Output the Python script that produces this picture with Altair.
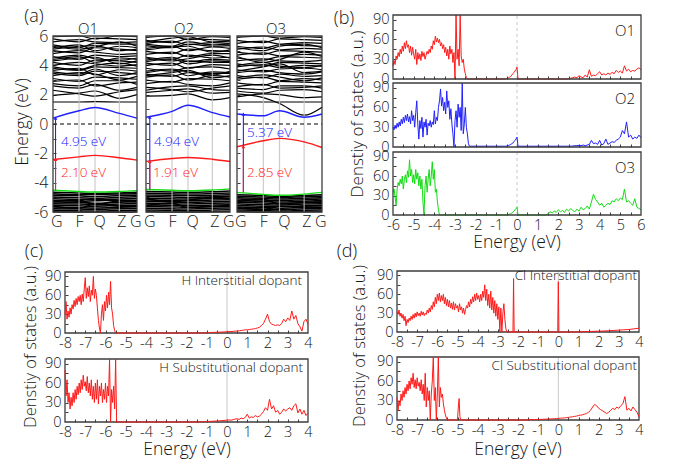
import altair as alt
import pandas as pd

W, H = 692, 460
FONT = "Open Sans"
INK = "#151515"
FRAME = "#3c3c3c"
RED = "#ff1a1a"
BLUE = "#2020ff"
GREEN = "#14dc14"
GRID = "#c4c4c4"
TICK = 3

# ====================== (a) band structures ======================
KPTS = [0.0, 0.31, 0.5, 0.79, 1.0]
KLABELS = ["G", "F", "Q", "Z", "G"]
KLABEL_POS = [0.04, 0.31, 0.55, 0.815, 0.98]

O1_CB = [
    [1.50, 1.50, 1.52, 1.50, 1.50], [1.95, 2.10, 2.25, 1.75, 2.00],
    [2.30, 2.05, 1.90, 2.20, 2.35], [2.60, 2.45, 2.70, 2.30, 2.50],
    [2.75, 2.60, 2.95, 2.95, 2.70], [2.90, 3.00, 2.60, 2.80, 2.85],
    [3.10, 2.90, 3.20, 3.15, 3.05], [3.30, 3.50, 3.40, 3.00, 3.25],
    [3.45, 3.30, 3.60, 3.50, 3.40], [3.55, 3.40, 3.75, 3.30, 3.50],
    [3.65, 3.80, 3.35, 3.70, 3.60], [3.80, 3.65, 3.90, 3.85, 3.80],
    [3.90, 3.70, 4.00, 4.15, 3.95], [4.00, 4.20, 4.10, 3.95, 4.05],
    [4.20, 4.00, 4.35, 4.30, 4.20], [4.30, 4.50, 4.55, 4.10, 4.30],
    [4.40, 4.60, 4.20, 4.50, 4.40], [4.50, 4.70, 4.45, 4.35, 4.50],
    [4.60, 4.40, 4.70, 4.60, 4.65], [4.80, 5.00, 4.90, 4.75, 4.80],
    [5.00, 4.85, 5.20, 5.10, 5.00], [5.10, 5.30, 5.35, 5.00, 5.10],
    [5.20, 5.40, 5.00, 5.30, 5.20], [5.30, 5.10, 5.25, 5.60, 5.30],
    [5.40, 5.20, 5.50, 5.45, 5.45], [5.60, 5.75, 5.60, 5.55, 5.60],
    [5.80, 5.60, 5.85, 5.80, 5.75], [5.95, 6.10, 5.80, 6.00, 5.95],
]
O2_CB = [
    [1.90, 1.95, 2.05, 1.65, 1.80], [2.15, 2.30, 2.40, 2.10, 2.15],
    [2.30, 2.55, 2.60, 2.35, 2.30], [2.50, 2.35, 2.20, 2.45, 2.60],
    [2.75, 2.90, 2.70, 2.60, 2.80], [3.00, 2.85, 3.10, 3.05, 2.95],
    [3.20, 3.35, 3.00, 3.30, 3.20], [3.30, 3.50, 3.65, 3.15, 3.30],
    [3.40, 3.25, 3.50, 3.45, 3.45], [3.50, 3.70, 3.30, 3.55, 3.50],
    [3.60, 3.75, 3.55, 3.35, 3.60], [3.80, 3.60, 3.85, 3.90, 3.75],
    [4.00, 4.15, 3.80, 4.05, 4.00], [4.15, 4.00, 4.30, 4.20, 4.20],
    [4.25, 4.45, 4.10, 4.30, 4.25], [4.35, 4.55, 4.25, 4.40, 4.35],
    [4.50, 4.30, 4.45, 4.70, 4.50], [4.55, 4.40, 4.70, 4.50, 4.55],
    [4.75, 4.90, 4.60, 4.80, 4.80], [4.95, 4.80, 5.10, 5.00, 4.95],
    [5.05, 5.25, 5.30, 4.90, 5.05], [5.15, 5.30, 5.00, 5.25, 5.15],
    [5.35, 5.20, 5.45, 5.30, 5.35], [5.45, 5.30, 5.60, 5.40, 5.45],
    [5.50, 5.65, 5.40, 5.55, 5.50], [5.60, 5.85, 5.95, 5.60, 5.65],
    [5.70, 5.55, 5.80, 5.75, 5.70], [5.90, 6.05, 5.75, 5.95, 5.90],
]
O3_CB = [
    [1.50, 1.50, 1.50, 1.50, 1.50], [2.05, 1.80, 1.40, 0.60, 1.15],
    [1.85, 2.05, 2.00, 1.80, 1.85], [2.25, 2.10, 2.30, 2.35, 2.20],
    [2.45, 2.35, 2.60, 2.60, 2.45], [2.55, 2.70, 2.45, 2.50, 2.60],
    [2.80, 2.65, 2.90, 2.85, 2.80], [3.05, 3.20, 2.95, 3.10, 3.00],
    [3.15, 3.35, 3.20, 2.95, 3.15], [3.30, 3.15, 3.40, 3.25, 3.30],
    [3.50, 3.65, 3.50, 3.40, 3.55], [3.60, 3.90, 4.10, 3.50, 3.60],
    [3.70, 3.55, 3.75, 3.80, 3.70], [3.90, 4.05, 3.85, 4.00, 3.95],
    [4.00, 4.20, 3.95, 3.85, 4.00], [4.10, 3.95, 4.20, 4.15, 4.10],
    [4.30, 4.45, 4.30, 4.25, 4.35], [4.50, 4.35, 4.60, 4.55, 4.50],
    [4.60, 4.20, 4.40, 4.90, 4.60], [4.70, 4.85, 4.65, 4.75, 4.70],
    [4.90, 4.75, 5.00, 4.95, 4.90], [5.10, 5.25, 5.05, 5.15, 5.10],
    [5.20, 5.00, 5.30, 5.45, 5.20], [5.30, 5.15, 5.40, 5.35, 5.30],
    [5.50, 5.65, 5.45, 5.55, 5.50], [5.70, 5.55, 5.80, 5.75, 5.70],
    [5.90, 6.05, 5.85, 5.95, 5.90],
]
O1_VB = [
    [-4.66, -4.70, -4.74, -4.70, -4.66], [-4.76, -4.82, -4.80, -4.78, -4.75],
    [-4.86, -4.90, -4.94, -4.88, -4.85], [-4.98, -5.02, -5.06, -5.00, -4.96],
    [-5.10, -5.14, -5.16, -5.12, -5.08], [-5.22, -5.26, -5.24, -5.20, -5.20],
    [-5.32, -5.36, -5.40, -5.34, -5.30], [-5.44, -5.46, -5.50, -5.46, -5.42],
    [-5.54, -5.58, -5.60, -5.56, -5.54], [-5.66, -5.70, -5.72, -5.68, -5.64],
    [-5.78, -5.80, -5.82, -5.78, -5.76], [-5.88, -5.92, -5.94, -5.90, -5.88],
    [-5.98, -6.02, -6.04, -6.00, -5.98], [-5.30, -5.20, -5.50, -5.25, -5.30],
    [-5.60, -5.75, -5.45, -5.60, -5.62],
]
O2_VB = [
    [-4.60, -4.64, -4.66, -4.62, -4.56], [-4.72, -4.76, -4.78, -4.74, -4.70],
    [-4.84, -4.86, -4.90, -4.86, -4.82], [-4.94, -4.98, -5.02, -4.96, -4.92],
    [-5.06, -5.10, -5.12, -5.08, -5.04], [-5.18, -5.20, -5.24, -5.18, -5.16],
    [-5.28, -5.32, -5.34, -5.30, -5.28], [-5.40, -5.44, -5.46, -5.40, -5.38],
    [-5.52, -5.54, -5.58, -5.52, -5.50], [-5.62, -5.66, -5.68, -5.64, -5.62],
    [-5.74, -5.78, -5.80, -5.74, -5.72], [-5.86, -5.88, -5.92, -5.86, -5.84],
    [-5.96, -6.00, -6.02, -5.98, -5.96], [-5.10, -5.30, -5.20, -5.00, -5.10],
    [-5.55, -5.40, -5.70, -5.60, -5.55],
]
O3_VB = [
    [-4.82, -4.88, -4.94, -4.88, -4.82], [-4.92, -4.98, -5.02, -4.96, -4.92],
    [-5.02, -5.08, -5.12, -5.06, -5.02], [-5.12, -5.18, -5.22, -5.16, -5.12],
    [-5.24, -5.28, -5.32, -5.26, -5.22], [-5.34, -5.38, -5.42, -5.36, -5.34],
    [-5.44, -5.50, -5.52, -5.46, -5.44], [-5.56, -5.60, -5.62, -5.58, -5.54],
    [-5.66, -5.70, -5.74, -5.68, -5.66], [-5.76, -5.80, -5.84, -5.78, -5.76],
    [-5.86, -5.90, -5.94, -5.88, -5.86], [-5.96, -6.00, -6.04, -5.98, -5.96],
    [-5.30, -5.15, -5.45, -5.35, -5.30], [-5.70, -5.85, -5.60, -5.65, -5.70],
]
O1_BLUE = [0.40, 0.90, 1.12, 0.72, 0.40]
O1_RED = [-2.42, -2.24, -2.14, -2.30, -2.46]
O1_GREEN = [-4.52, -4.60, -4.64, -4.60, -4.54]
O2_BLUE = [0.46, 0.86, 1.28, 0.78, 0.48]
O2_RED = [-2.55, -2.35, -2.28, -2.40, -2.56]
O2_GREEN = [-4.46, -4.52, -4.55, -4.50, -4.42]
O3_BLUE = [0.68, 0.56, 0.90, 0.46, 0.68]
O3_RED = [-1.55, -1.14, -0.98, -1.22, -1.60]
O3_GREEN = [-4.66, -4.80, -4.86, -4.78, -4.66]
GAP_LABELS = {"O1": ("4.95 eV", "2.10 eV"), "O2": ("4.94 eV", "1.91 eV"), "O3": ("5.37 eV", "2.85 eV")}

BANDS = {
    "O1": dict(cb=O1_CB, vb=O1_VB, blue=O1_BLUE, red=O1_RED, green=O1_GREEN),
    "O2": dict(cb=O2_CB, vb=O2_VB, blue=O2_BLUE, red=O2_RED, green=O2_GREEN),
    "O3": dict(cb=O3_CB, vb=O3_VB, blue=O3_BLUE, red=O3_RED, green=O3_GREEN),
}

# ====================== DOS curves: (start eV, step eV, values) ======================
B_O1 = [
    (-6.0, 0.05, [20, 28, 22, 35, 30, 40, 34, 45, 38, 50, 42, 55, 46, 58, 48, 52, 40, 50, 36, 48,
                  38, 30, 45, 22, 40, 30, 38, 28, 42, 34, 40, 30, 36, 42, 38, 45, 40, 50, 45, 58,
                  52, 65, 56, 62, 55, 60, 50, 55, 46, 52, 40, 48, 35, 45, 30, 50, 38, 45, 25, 40,
                  0, 120, 30, 45, 20, 120, 35, 25, 30, 15, 8, 2, 0]),
    (-0.55, 0.05, [0, 1, 1, 2, 3, 4, 6, 8, 10, 12, 14, 18, 0]),
    (2.4, 0.1, [0, 0.5, 1, 2, 3, 2, 5, 3, 2, 6, 3, 14, 4, 6, 5, 8, 11, 6, 8, 6, 9, 7, 10, 8, 13,
                10, 12, 9, 20, 12, 15, 11, 13, 12, 15, 17, 14]),
]
B_O2 = [
    (-6.0, 0.05, [30, 26, 33, 28, 36, 30, 38, 32, 42, 35, 45, 37, 48, 40, 50, 38, 46, 35, 55, 40,
                  48, 30, 52, 70, 35, 12, 40, 28, 45, 15, 38, 30, 42, 18, 36, 32, 40, 30, 38, 34,
                  55, 35, 45, 40, 60, 70, 88, 62, 75, 55, 68, 50, 85, 60, 70, 42, 58, 35, 20, 0,
                  40, 55, 30, 65, 45, 60, 25, 120, 20, 35, 60, 30, 20, 5, 1.2]),
    (-0.55, 0.05, [1.2, 1.5, 2, 2.5, 3, 4, 5, 6, 8, 10, 12, 15, 1.2]),
    (2.6, 0.1, [1.2, 1.5, 2, 2, 2.5, 2, 3, 2, 3, 4, 10, 5, 6, 4, 10, 3, 5, 12, 4, 6, 8, 7, 10, 12,
                15, 25, 20, 38, 15, 18, 12, 15, 13, 18, 14]),
]
B_O3 = [
    (-6.0, 0.05, [35, 40, 28, 15, 40, 50, 45, 55, 48, 60, 40, 55, 62, 50, 68, 58, 85, 60, 70, 50,
                  62, 48, 70, 55, 65, 45, 60, 40, 55, 20, 0, 45, 60, 35, 55, 70, 45, 60, 82, 55,
                  70, 35, 40, 20, 8, 0]),
    (-0.5, 0.05, [0, 0.5, 1, 1.5, 2, 3, 4, 6, 8, 10, 12, 0]),
    (1.4, 0.1, [0, 2, 5, 3, 6, 4, 8, 5, 7, 4, 9, 6, 10, 7, 5, 9, 6, 12, 8, 10, 14, 9, 20, 32, 24,
                20, 15, 18, 12, 15, 18, 16, 22, 20, 25, 22, 26, 24, 40, 20, 22, 18, 15, 25, 12, 10, 8]),
]
C_HINT = [
    (-8.0, 0.05, [30, 50, 22, 35, 25, 40, 30, 45, 38, 52, 42, 55, 45, 58, 50, 60, 45, 62, 50, 70,
                  88, 55, 72, 58, 75, 50, 68, 60, 90, 55, 70, 60, 40, 20, 8, 0, 30, 45, 20, 50,
                  35, 60, 40, 65, 45, 82, 40, 30, 12, 4, 0]),
    (-1.2, 0.1, [0, 0.3, 0.5, 0.6, 0.8, 1, 1, 1.2, 1.3, 1.5, 1.6, 1.8, 2, 2.2, 2.4, 2.6, 3, 3.2,
                 3.5, 4, 4.5, 5, 5, 5.5, 6, 6.5, 7, 8, 9, 12, 15, 22, 30, 18, 14, 13, 12, 13, 12,
                 15, 22, 18, 24, 20, 35, 22, 28, 15, 10, 3, 18, 22, 14]),
]
C_HSUB = [
    (-8.0, 0.05, [80, 40, 65, 30, 45, 20, 38, 25, 45, 30, 50, 35, 55, 42, 60, 45, 65, 50, 72, 55,
                  62, 48, 70, 45, 60, 40, 65, 35, 55, 30, 60, 35, 65, 28, 55, 40, 60, 30, 50, 35,
                  60, 30, 55, 40, 120, 0, 50, 30, 55, 20, 120, 0, 0]),
    (-1.4, 0.1, [0, 0.3, 0.5, 0.6, 0.8, 1, 1, 1.2, 1.4, 1.5, 1.7, 2, 2.2, 2.5, 3, 3.2, 2.8, 3.5,
                 4.5, 5, 4, 6, 5, 7, 12, 6, 8, 7, 10, 8, 9, 12, 16, 22, 18, 35, 20, 25, 15, 18,
                 12, 15, 20, 17, 20, 22, 18, 25, 28, 14, 20, 12, 18, 10, 14]),
]
D_CLINT = [
    (-8.0, 0.05, [32, 28, 35, 25, 30, 22, 28, 18, 25, 10, 20, 15, 22, 18, 25, 20, 28, 22, 30, 24,
                  32, 26, 30, 25, 33, 27, 32, 26, 30, 28, 35, 30, 38, 32, 42, 36, 48, 40, 55, 45,
                  60, 50, 62, 48, 58, 50, 60, 45, 55, 42, 52, 40, 50, 38, 46, 36, 48, 35, 45, 38,
                  42, 32, 45, 35, 40, 30, 38, 28, 36, 42, 38, 48, 40, 52, 45, 56, 48, 60, 50, 62,
                  52, 58, 48, 60, 50, 65, 55, 75, 50, 68, 42, 60, 38, 65, 35, 55, 30, 50, 25, 45,
                  20, 40, 0, 38, 0, 30, 45, 20, 5, 0]),
    (-2.25, 0.03, [0, 85, 0]),
    (-0.03, 0.03, [0, 80, 0]),
    (1.0, 0.25, [0, 0.5, 0.8, 1, 1.3, 1.6, 2, 2.5, 3, 3.5, 4, 5, 6]),
]
D_CLSUB = [
    (-8.0, 0.05, [35, 15, 30, 22, 40, 30, 45, 35, 50, 40, 55, 45, 60, 48, 65, 55, 72, 50, 62, 48,
                  65, 52, 58, 45, 62, 40, 55, 30, 72, 20, 50, 30, 45, 0, 40, 60, 120, 30, 50, 0,
                  40, 120, 20, 50, 35, 40, 25, 15, 8, 3, 0]),
    (-5.0, 0.04, [0, 20, 33, 5, 0]),
    (-1.6, 0.1, [0, 0.3, 0.4, 0.5, 0.6, 0.7, 0.8, 1, 1, 1.2, 1.3, 1.5, 1.6, 1.8, 2, 2.2, 2.5,
                 2.8, 3, 3.2, 3.5, 4, 4.5, 5, 5.5, 6, 7, 7.5, 8, 9, 10, 12, 15, 20, 24, 22, 18,
                 16, 14, 12, 10, 12, 15, 18, 16, 20, 18, 22, 25, 36, 15, 18, 14, 20, 16, 12, 5]),
]

# ====================== layout (pixels) ======================
BAND_X = {"O1": (53, 137), "O2": (146, 230), "O3": (237, 322)}
BAND_Y = (212, 36)
E_DOM = (-6, 6)
ARROW_K = {"O1": 0.03, "O2": 0.045, "O3": 0.075}
DOS_TOP = 97
LBL = 14.5    # DOS tick label size
BLBL = 16     # band tick label size

DOS_PANELS = [
    dict(s=B_O1, c=RED, xp=(393, 641), yp=(79, 15), xd=(-6, 6), xl=False, top=False, zd=True),
    dict(s=B_O2, c=BLUE, xp=(393, 641), yp=(147, 83), xd=(-6, 6), xl=False, top=False, zd=True),
    dict(s=B_O3, c=GREEN, xp=(393, 641), yp=(215, 152), xd=(-6, 6), xl=True, top=False, zd=True),
    dict(s=C_HINT, c=RED, xp=(65, 308), yp=(333, 272), xd=(-8, 4), xl=True, top=True),
    dict(s=C_HSUB, c=RED, xp=(65, 308), yp=(422, 359), xd=(-8, 4), xl=True, top=True),
    dict(s=D_CLINT, c=RED, xp=(397, 639), yp=(332, 271), xd=(-8, 4), xl=True, top=True),
    dict(s=D_CLSUB, c=RED, xp=(397, 639), yp=(420, 357), xd=(-8, 4), xl=True, top=True),
]


def sc(domain, rng, clamp=False):
    return alt.Scale(domain=list(domain), range=list(rng), nice=False, zero=False, clamp=clamp)


def tick_axis(orient, pos, values):
    off = -(pos + TICK) if orient == "left" else (pos - TICK) - H
    return alt.Axis(orient=orient, offset=off, values=values, labels=False, domain=False,
                    grid=False, ticks=True, tickSize=TICK, tickColor=FRAME, tickWidth=1, title=None)


def label_axis(orient, pos, values, size, pad, expr="datum.value + ''"):
    off = -pos if orient == "left" else pos - H
    return alt.Axis(orient=orient, offset=off, values=values, labelExpr=expr, ticks=False,
                    tickSize=0, domain=False, grid=False, labelFont=FONT, labelFontSize=size,
                    labelFontWeight=300, labelColor=INK, labelPadding=pad, labelFlush=False,
                    labelOverlap=False, title=None)


def text(t, x, y, size, color=INK, align="center", angle=0):
    kw = dict(align=align, baseline="middle", font=FONT, fontSize=size, color=color, fontWeight=300)
    if angle:
        kw["angle"] = angle
    return alt.Chart(pd.DataFrame({"t": [t]})).mark_text(**kw).encode(
        x=alt.value(x), y=alt.value(y), text="t:N")


layers = []

# ---------------- band panels ----------------
klab_expr = " : ".join(
    f"abs(datum.value - {k}) < 0.01 ? '{l}'" for k, l in zip(KLABEL_POS, KLABELS)) + " : ''"

for name in ["O1", "O2", "O3"]:
    d = BANDS[name]
    x0, x1 = BAND_X[name]
    xs = sc((0, 1), (x0, x1))
    ys = sc(E_DOM, BAND_Y, clamp=True)

    def XE(f, axis=None):
        return alt.X(f, type="quantitative", scale=xs, axis=axis)

    def YE(f, axis=None):
        return alt.Y(f, type="quantitative", scale=ys, axis=axis)

    for group, width in ((d["cb"], 1.2), (d["vb"], 1.5)):
        rows = [{"b": i, "k": k, "E": e} for i, band in enumerate(group) for k, e in zip(KPTS, band)]
        layers.append(alt.Chart(pd.DataFrame(rows)).mark_line(
            color="black", strokeWidth=width, interpolate="monotone").encode(
            x=XE("k"), y=YE("E"), detail="b:N"))

    grid_df = pd.DataFrame({"k": KPTS[1:4], "lo": [E_DOM[0]] * 3, "hi": [E_DOM[1]] * 3})
    layers.append(alt.Chart(grid_df).mark_rule(color=GRID, strokeWidth=1.2, opacity=0.85).encode(
        x=XE("k"), y=YE("lo", tick_axis("left", x0, list(range(-5, 6)))), y2="hi:Q"))

    zero_df = pd.DataFrame({"k0": [0.0], "k1": [1.0], "E": [0.0]})
    layers.append(alt.Chart(zero_df).mark_rule(color="black", strokeWidth=1, strokeDash=[4, 3]).encode(
        x=XE("k0"), x2="k1:Q", y=YE("E")))

    for key, col in (("green", GREEN), ("red", RED), ("blue", BLUE)):
        df = pd.DataFrame({"k": KPTS, "E": d[key]})
        layers.append(alt.Chart(df).mark_line(color=col, strokeWidth=1.4, interpolate="monotone").encode(
            x=XE("k"), y=YE("E")))

    ak = ARROW_K[name]
    for top, col in ((d["blue"][0], BLUE), (d["red"][0], RED)):
        adf = pd.DataFrame({"k": [ak], "lo": [d["green"][0]], "hi": [top]})
        layers.append(alt.Chart(adf).mark_rule(color=col, strokeWidth=1.1).encode(
            x=XE("k"), y=YE("lo"), y2="hi:Q"))
        layers.append(alt.Chart(adf).mark_point(shape="triangle-up", filled=True, size=14,
                                                color=col, opacity=1).encode(x=XE("k"), y=YE("hi")))

    frame_df = pd.DataFrame({"a": [0.0], "b": [1.0], "lo": [E_DOM[0]], "hi": [E_DOM[1]]})
    yax = label_axis("left", x0, [-6, -4, -2, 0, 2, 4, 6], BLBL, 5) if name == "O1" else None
    xax = label_axis("bottom", BAND_Y[0], KLABEL_POS, BLBL, 1, klab_expr)
    layers.append(alt.Chart(frame_df).mark_rect(fillOpacity=0, stroke=FRAME, strokeWidth=1.3).encode(
        x=XE("a", xax), x2="b:Q", y=YE("lo", yax), y2="hi:Q"))

# ---------------- DOS panels ----------------
for i, p in enumerate(DOS_PANELS):
    xs = sc(p["xd"], p["xp"])
    ys = sc((0, DOS_TOP), p["yp"], clamp=True)
    rows = [{"E": round(s + j * st, 4), "v": v} for s, st, vals in p["s"] for j, v in enumerate(vals)]
    df = pd.DataFrame(rows)
    xl = label_axis("bottom", p["yp"][0], list(range(p["xd"][0], p["xd"][1] + 1)), LBL, 3) if p["xl"] else None
    yl = label_axis("left", p["xp"][0], [0, 30, 60, 90], LBL, 4)
    line = alt.Chart(df).mark_line(color=p["c"], strokeWidth=1).encode(
        x=alt.X("E:Q", scale=xs, axis=xl), y=alt.Y("v:Q", scale=ys, axis=yl))

    zdf = pd.DataFrame({"x": [0.0], "lo": [0.0], "hi": [DOS_TOP]})
    zkw = dict(color="#c8c8c8", strokeWidth=1)
    if p.get("zd"):
        zkw["strokeDash"] = [3, 3]
    zero = alt.Chart(zdf).mark_rule(**zkw).encode(
        x=alt.X("x:Q", scale=xs, axis=None), y=alt.Y("lo:Q", scale=ys, axis=None), y2="hi:Q")

    xt = [p["xd"][0] + 0.5 * j for j in range(1, 2 * (p["xd"][1] - p["xd"][0]))]
    fdf = pd.DataFrame({"a": [p["xd"][0]], "b": [p["xd"][1]], "lo": [0], "hi": [DOS_TOP]})
    frame = alt.Chart(fdf).mark_rect(fillOpacity=0, stroke=FRAME, strokeWidth=1.3).encode(
        x=alt.X("a:Q", scale=xs, axis=tick_axis("bottom", p["yp"][0], xt)), x2="b:Q",
        y=alt.Y("lo:Q", scale=ys, axis=tick_axis("left", p["xp"][0], [15, 30, 45, 60, 75, 90])),
        y2="hi:Q")
    layers += [zero, frame, line] if p["top"] else [zero, line, frame]

# ---------------- text annotations ----------------
layers += [
    text("(a)", 34, 17, 18), text("(b)", 344, 19, 18), text("(c)", 34, 252, 18), text("(d)", 347, 252, 18),
    text("O1", 88, 29, 15), text("O2", 184, 29, 15), text("O3", 276, 29, 15),
    text("Energy (eV)", 23, 122, 17.5, angle=270),
    text(GAP_LABELS["O1"][0], 61, 142, 13.5, BLUE, "left"), text(GAP_LABELS["O1"][1], 61, 173, 13.5, RED, "left"),
    text(GAP_LABELS["O2"][0], 154, 142, 13.5, BLUE, "left"), text(GAP_LABELS["O2"][1], 153, 173, 13.5, RED, "left"),
    text(GAP_LABELS["O3"][0], 247, 133, 13.5, BLUE, "left"), text(GAP_LABELS["O3"][1], 247, 173, 13.5, RED, "left"),
    text("O1", 635, 31, 15, align="right"), text("O2", 635, 99, 15, align="right"),
    text("O3", 635, 168, 15, align="right"),
    text("Denstiy of states (a.u.)", 358, 114, 17, angle=270),
    text("Energy (eV)", 517, 243, 17.5),
    text("H Interstitial dopant", 302, 281, 13.5, align="right"),
    text("H Substitutional dopant", 303, 368, 13.5, align="right"),
    text("Denstiy of states (a.u.)", 31, 347, 16.5, angle=270),
    text("Energy (eV)", 187, 450, 17.5),
    text("Cl Interstitial dopant", 637, 276, 13.5, align="right"),
    text("Cl Substitutional dopant", 637, 366, 13.5, align="right"),
    text("Denstiy of states (a.u.)", 360, 346, 16.5, angle=270),
    text("Energy (eV)", 518, 450, 17.5),
]

chart = alt.layer(*layers).resolve_scale(x="independent", y="independent").properties(
    width=W, height=H, padding=0, autosize=alt.AutoSizeParams(type="none")
).configure_view(stroke=None)

chart.save("out.html", embed_options={"renderer": "svg", "actions": False})
